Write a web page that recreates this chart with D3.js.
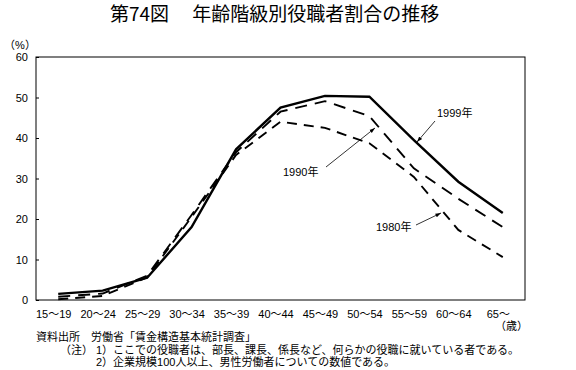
<!DOCTYPE html>
<html><head><meta charset="utf-8">
<script src="https://cdn.jsdelivr.net/npm/d3@7"></script>
<style>
html,body{margin:0;padding:0;background:#fff;}
svg{display:block;}
text{font-family:"Liberation Sans","Noto Sans CJK JP",sans-serif;fill:#000;}
</style></head>
<body>
<svg id="chart" width="576" height="370"></svg>
<script>
const categories = ["15～19","20～24","25～29","30～34","35～39","40～44","45～49","50～54","55～59","60～64","65～"];
const y1999 = [1.5, 2.3, 5.5, 18.0, 37.2, 47.5, 50.4, 50.2, 39.5, 29.2, 21.5];
const y1990 = [0.8, 1.6, 6.0, 21.0, 36.5, 46.5, 49.1, 45.4, 32.5, 25.0, 18.0];
const y1980 = [0.2, 1.0, 5.6, 20.5, 35.8, 44.0, 42.5, 38.7, 30.4, 17.3, 10.6];
const yTicks = [0, 10, 20, 30, 40, 50, 60];
const seriesNames = ["1999年", "1990年", "1980年"];

const svg = d3.select("#chart");
const L = 36, R = 525, T = 57, B = 300;
const x = d3.scalePoint().domain(categories).range([L, R]).padding(0.5);
const y = d3.scaleLinear().domain([0, 60]).range([B, T]);

// title
svg.append("text").attr("x", 110).attr("y", 21)
  .style("font-family", "'Noto Sans CJK JP',sans-serif").style("font-size", "19px")
  .attr("xml:space", "preserve")
  .text("第74図　 年齢階級別役職者割合の推移");

// plot frame
svg.append("rect").attr("x", L).attr("y", T).attr("width", R - L).attr("height", B - T)
  .attr("fill", "none").attr("stroke", "#000").attr("stroke-width", 1);

// y axis
const yAxis = d3.axisLeft(y).tickValues(yTicks).tickSize(-3).tickPadding(8);
const gy = svg.append("g").attr("transform", `translate(${L},0)`).call(yAxis);
gy.select(".domain").remove();
gy.selectAll("line").attr("stroke", "#000");
gy.selectAll("text").style("font-size", "11px").attr("fill", "#000");

svg.append("text").attr("x", 20).attr("y", 49).attr("text-anchor", "middle")
  .style("font-size", "11px").text("（%）");

// x axis labels
const xAxis = d3.axisBottom(x).tickSize(0).tickPadding(10);
const gx = svg.append("g").attr("transform", `translate(-5,${B})`).call(xAxis);
gx.select(".domain").remove();
gx.selectAll("text").style("font-size", "11px").attr("fill", "#000");
svg.append("text").attr("x", 528).attr("y", 330).attr("text-anchor", "end")
  .style("font-size", "11px").text("（歳）");

// lines
const line = d3.line().x((d, i) => x(categories[i])).y(d => y(d));
const styles = [
  {data: y1999, w: 2.4, dash: null},
  {data: y1990, w: 1.9, dash: "12,8"},
  {data: y1980, w: 1.9, dash: "10,7"}
];
styles.forEach(s => {
  svg.append("path").datum(s.data).attr("d", line)
    .attr("fill", "none").attr("stroke", "#000").attr("stroke-width", s.w)
    .attr("stroke-dasharray", s.dash).attr("stroke-linejoin", "miter");
});

// annotations with arrows
const defs = svg.append("defs");
defs.append("marker").attr("id", "ah").attr("viewBox", "0 0 10 10")
  .attr("refX", 10).attr("refY", 5).attr("markerWidth", 7).attr("markerHeight", 7)
  .attr("orient", "auto").append("path").attr("d", "M0,1.5 L10,5 L0,8.5 z").attr("fill", "#000");

const notes = [
  {t: seriesNames[0], tx: 437, ty: 117, x1: 435, y1: 121, x2: 417, y2: 142},
  {t: seriesNames[1], tx: 283, ty: 176, x1: 326, y1: 167, x2: 375, y2: 128},
  {t: seriesNames[2], tx: 376, ty: 231, x1: 416, y1: 225, x2: 441, y2: 213}
];
notes.forEach(n => {
  svg.append("text").attr("x", n.tx).attr("y", n.ty).style("font-size", "11px").text(n.t);
  svg.append("line").attr("x1", n.x1).attr("y1", n.y1).attr("x2", n.x2).attr("y2", n.y2)
    .attr("stroke", "#000").attr("stroke-width", 0.8).attr("marker-end", "url(#ah)");
});

// footnotes
const fn = svg.append("g").style("font-size", "11px");
fn.append("text").attr("x", 36).attr("y", 341).attr("xml:space", "preserve")
  .text("資料出所　労働省「賃金構造基本統計調査」");
fn.append("text").attr("x", 60).attr("y", 354).text("（注）");
fn.append("text").attr("x", 96).attr("y", 354)
  .text("1）ここでの役職者は、部長、課長、係長など、何らかの役職に就いている者である。");
fn.append("text").attr("x", 96).attr("y", 366)
  .text("2）企業規模100人以上、男性労働者についての数値である。");
</script>
</body></html>
